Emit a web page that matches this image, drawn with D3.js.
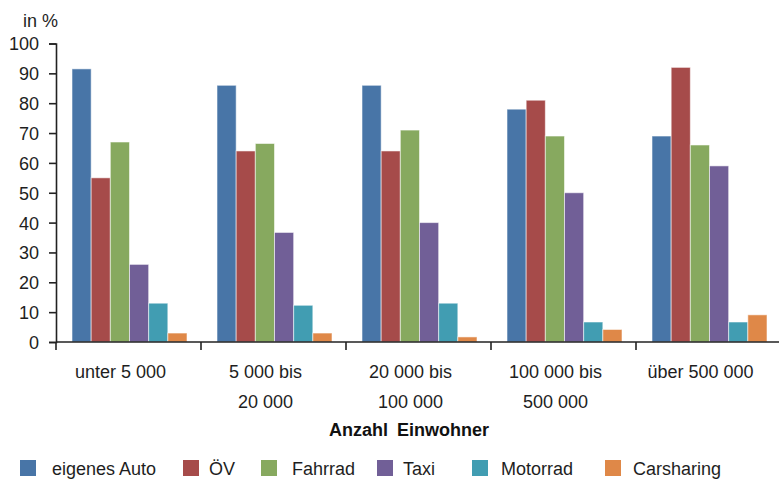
<!DOCTYPE html>
<html>
<head>
<meta charset="utf-8">
<script src="https://cdn.jsdelivr.net/npm/d3@7"></script>
<style>
  html, body { margin: 0; padding: 0; background: #fff; }
  svg { display: block; font-family: "Liberation Sans", Arial, Helvetica, sans-serif; }
</style>
</head>
<body>
<svg id="chart" width="779" height="480"></svg>
<script>
// Ortsgrößenklassen (Anzahl Einwohner), zweizeilige Beschriftung
const categories = ["unter 5 000", "5 000 bis 20 000", "20 000 bis 100 000", "100 000 bis 500 000", "über 500 000"];
const categoryLines = [["unter 5 000"], ["5 000 bis", "20 000"], ["20 000 bis", "100 000"], ["100 000 bis", "500 000"], ["über 500 000"]];

// Verkehrsmittel
const seriesNames = ["eigenes Auto", "ÖV", "Fahrrad", "Taxi", "Motorrad", "Carsharing"];
const seriesColors = ["#4875a7", "#a64b4a", "#87a95f", "#715f97", "#419db2", "#df8848"];

// Anteile in % je Verkehrsmittel
const eigenesAuto = [91.5, 86, 86, 78, 69];
const oev         = [55, 64, 64, 81, 92];
const fahrrad     = [67, 66.5, 71, 69, 66];
const taxi        = [26, 36.7, 40, 50, 59];
const motorrad    = [13, 12.3, 13, 6.7, 6.7];
const carsharing  = [3, 3, 1.7, 4.2, 9.1];
const seriesValues = [eigenesAuto, oev, fahrrad, taxi, motorrad, carsharing];

const yTicks = [0, 10, 20, 30, 40, 50, 60, 70, 80, 90, 100];

// Layout
const W = 779, H = 480;
const plotLeft = 56, plotRight = 781, plotTop = 43.5, plotBottom = 342;
const legendSquareX = [20, 183, 261, 377, 472, 605];
const legendTextGap = [32, 26, 31, 26, 29, 28];
const legendY = 460;

const svg = d3.select("#chart");
const textColor = "#1e1e1e";

const x0 = d3.scaleBand().domain(categories).range([plotLeft, plotRight]).paddingInner(0).paddingOuter(0);
const x1 = d3.scaleBand().domain(seriesNames).range([16, x0.bandwidth() - 14]).padding(0);
const y = d3.scaleLinear().domain([0, 100]).range([plotBottom, plotTop]);

// Balken
const groups = svg.append("g").selectAll("g")
  .data(categories)
  .join("g")
  .attr("transform", d => `translate(${x0(d)},0)`);

groups.selectAll("rect")
  .data((c, ci) => seriesNames.map((s, si) => ({ s, si, v: seriesValues[si][ci] })))
  .join("rect")
  .attr("x", d => x1(d.s))
  .attr("y", d => y(d.v))
  .attr("width", x1.bandwidth())
  .attr("height", d => y(0) - y(d.v))
  .attr("fill", d => seriesColors[d.si])
  .attr("stroke", "rgba(255,255,255,0.55)")
  .attr("stroke-width", 1);

// y-Achse
const yAxis = d3.axisLeft(y).tickValues(yTicks).tickSize(7).tickSizeOuter(7).tickPadding(10);
const yg = svg.append("g").attr("transform", `translate(${plotLeft},0)`).call(yAxis);
yg.selectAll("path, line").attr("stroke", "#222").attr("stroke-width", 1.6);
yg.selectAll("text").attr("font-size", 18).attr("fill", textColor).attr("dy", "0.36em");
yg.attr("font-family", null).attr("font-size", null);

// x-Achse: Linie und Trennstriche an den Gruppengrenzen
const xg = svg.append("g");
xg.append("line")
  .attr("x1", plotLeft).attr("x2", W)
  .attr("y1", y(0)).attr("y2", y(0))
  .attr("stroke", "#222").attr("stroke-width", 1.6);
xg.selectAll("line.tick")
  .data(categories)
  .join("line")
  .attr("class", "tick")
  .attr("x1", d => x0(d)).attr("x2", d => x0(d))
  .attr("y1", y(0)).attr("y2", y(0) + 8)
  .attr("stroke", "#222").attr("stroke-width", 1.6);

// Kategoriebeschriftungen
const labels = svg.append("g").selectAll("text")
  .data(categories)
  .join("text")
  .attr("x", d => x0(d) + x0.bandwidth() / 2 - 8)
  .attr("y", y(0) + 36)
  .attr("text-anchor", "middle")
  .attr("font-size", 18)
  .attr("fill", textColor);
labels.selectAll("tspan")
  .data((d, i) => categoryLines[i])
  .join("tspan")
  .attr("x", function () { return d3.select(this.parentNode).attr("x"); })
  .attr("dy", (d, i) => i === 0 ? 0 : 30)
  .text(d => d);

// Achsentitel
svg.append("text")
  .attr("x", 409).attr("y", 436)
  .attr("text-anchor", "middle")
  .attr("font-size", 18).attr("font-weight", "bold")
  .attr("word-spacing", 4)
  .attr("fill", "#111")
  .text("Anzahl Einwohner");

svg.append("text")
  .attr("x", 23).attr("y", 26.5)
  .attr("font-size", 18)
  .attr("fill", textColor)
  .text("in %");

// Legende
const legend = svg.append("g").selectAll("g")
  .data(seriesNames)
  .join("g")
  .attr("transform", (d, i) => `translate(${legendSquareX[i]},${legendY})`);
legend.append("rect")
  .attr("width", 16).attr("height", 16)
  .attr("fill", (d, i) => seriesColors[i]);
legend.append("text")
  .attr("x", (d, i) => legendTextGap[i])
  .attr("y", 15)
  .attr("font-size", 18)
  .attr("fill", textColor)
  .text(d => d);
</script>
</body>
</html>
